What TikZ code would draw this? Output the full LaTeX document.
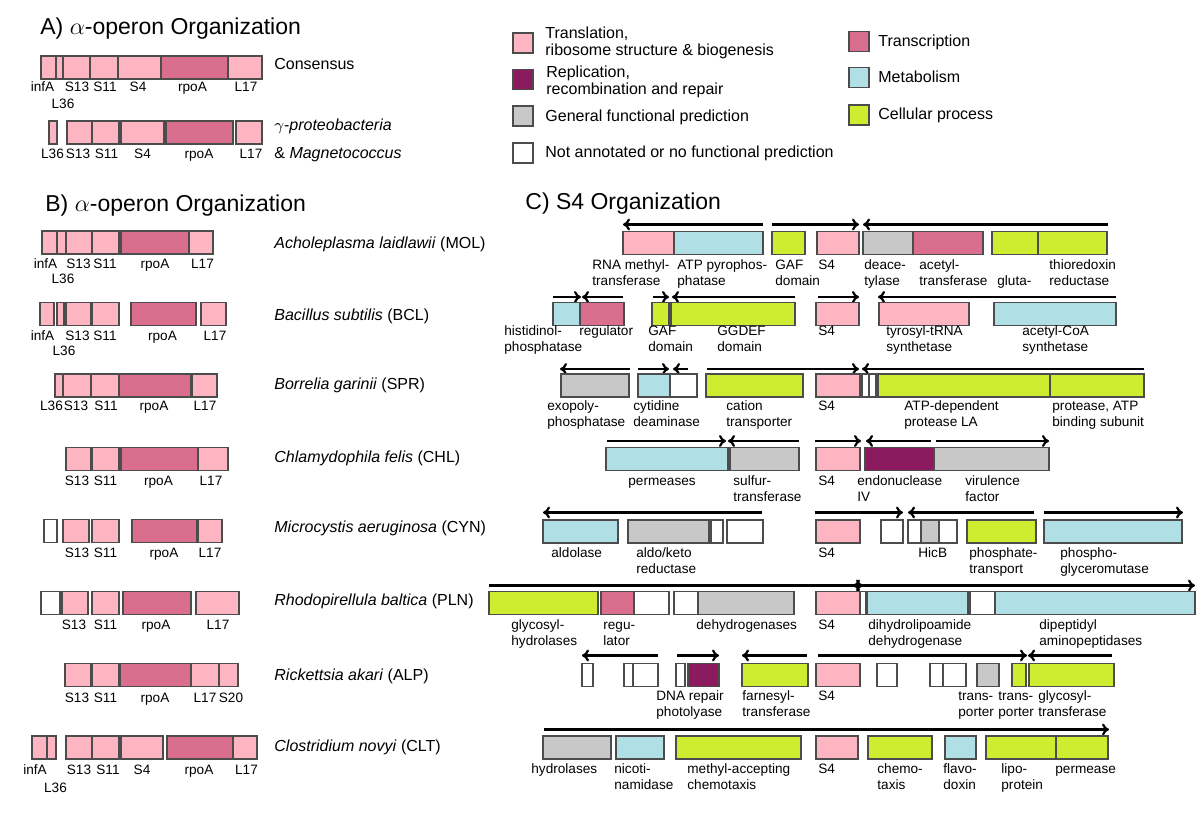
\documentclass[tikz,border=0pt]{standalone}
\usepackage{fontspec}
\setmainfont{Liberation Sans}
\usetikzlibrary{arrows.meta}

\definecolor{transl}{RGB}{253,182,193}
\definecolor{transc}{RGB}{217,110,143}
\definecolor{replic}{RGB}{139,27,94}
\definecolor{genpred}{RGB}{200,200,200}
\definecolor{metab}{RGB}{176,224,230}
\definecolor{cellp}{RGB}{206,236,48}
\definecolor{noann}{RGB}{255,255,255}

\newcommand{\genes}[2]{\foreach \xa/\xb/\gcol in {#2}{\draw[gene,fill=\gcol] (\xa,#1) rectangle (\xb,#1+23);}}
\newcommand{\orfs}[2]{\foreach \xa/\xb in {#2}{\draw[orf] (\xa,#1) -- (\xb,#1);}}
\newcommand{\glabels}[3]{\foreach \xa/\txt [count=\n] in {#3}{\node[glabel] (#1\n) at (\xa,#2) {\begin{tabular}[t]{@{}l@{}}\txt\end{tabular}};}}
\newcommand{\clabels}[3]{\foreach \xa/\txt [count=\n] in {#3}{\node[blabel] (#1\n) at (\xa,#2) {\txt};}}

\begin{document}
\begin{tikzpicture}[x=0.5pt,y=-0.5pt,
    gene/.style={draw=black!70,line width=0.6pt},
    orf/.style={-{To[length=3.5pt,width=6pt]},line width=1.1pt},
    glabel/.style={anchor=base west,inner sep=0pt,font=\fontsize{6.8}{8}\selectfont},
    blabel/.style={anchor=base,inner sep=0pt,font=\fontsize{6.8}{8}\selectfont},
    species/.style={anchor=base west,inner sep=0pt,font=\fontsize{8}{9.6}\selectfont},
    legtext/.style={anchor=base west,inner sep=0pt,font=\fontsize{8}{8.4}\selectfont},
    swatch/.style={gene,minimum size=10pt,inner sep=0pt},
    title/.style={anchor=base west,inner sep=0pt,font=\fontsize{11.5}{13}\selectfont}
]
\useasboundingbox (0,0) rectangle (1200,817);

% A) consensus
\node[title] (tA) at (40,34.5) {A) $\alpha$-operon Organization};
\genes{56}{41/56/transl,56/63/transl,63/90/transl,90/118/transl,118/161/transl,161/228/transc,228/262/transl}
\clabels{cona}{92}{42.5/infA,77/S13,105/S11,138/S4,192.5/rpoA,246/L17}
\clabels{conb}{108.5}{63/L36}
\node[species] (cons) at (274,70) {Consensus};
\genes{121}{49/57/transl,67/92/transl,92/119/transl,121/164/transl,166/233/transc,236/262/transl}
\clabels{gama}{158.5}{52.5/L36,78/S13,106.5/S11,142.5/S4,199/rpoA,251/L17}
\node[species] (gam) at (274,131) {$\gamma$-\textit{proteobacteria}};
\node[species] (mag) at (274,159) {\& \textit{Magnetococcus}};

% legend
\node[swatch,fill=transl] (sw1) at (523,43) {};
\node[swatch,fill=replic] (sw2) at (523,79.5) {};
\node[swatch,fill=genpred] (sw3) at (523,116) {};
\node[swatch,fill=noann] (sw4) at (523,153) {};
\node[swatch,fill=transc] (sw5) at (859,41.5) {};
\node[swatch,fill=metab] (sw6) at (859,77.5) {};
\node[swatch,fill=cellp] (sw7) at (859,115) {};
\node[legtext] (lg1) at (545,39) {\begin{tabular}[t]{@{}l@{}}Translation,\\ribosome structure \& biogenesis\end{tabular}};
\node[legtext] (lg2) at (546,77.5) {\begin{tabular}[t]{@{}l@{}}Replication,\\recombination and repair\end{tabular}};
\node[legtext] (lg3) at (545,121.5) {General functional prediction};
\node[legtext] (lg4) at (545,157.5) {Not annotated or no functional prediction};
\node[legtext] (lg5) at (878,46.5) {Transcription};
\node[legtext] (lg6) at (878,82.5) {Metabolism};
\node[legtext] (lg7) at (878,120) {Cellular process};

% B) alpha-operon in species
\node[title] (tB) at (45,211.5) {B) $\alpha$-operon Organization};
\genes{231}{42/57/transl,57/66/transl,66/92/transl,92/119/transl,121/189/transc,189/213/transl}
\clabels{mola}{268.5}{45.5/infA,78.5/S13,105/S11,155/rpoA,202.5/L17}
\clabels{molb}{283.5}{63/L36}
\node[species] (mol) at (274,249) {\textit{Acholeplasma laidlawii} (MOL)};
\genes{302.5}{40/54/transl,57/64/transl,66/91/transl,92/119/transl,131/196/transc,201/226/transl}
\clabels{bcla}{341}{42.5/infA,77.5/S13,105/S11,162.5/rpoA,215/L17}
\clabels{bclb}{355.5}{64/L36}
\node[species] (bcl) at (274,321) {\textit{Bacillus subtilis} (BCL)};
\genes{374}{55/63/transl,63/91/transl,91/119/transl,119/191/transc,192/217/transl}
\clabels{spra}{411}{51.5/L36,76/S13,106/S11,154/rpoA,205/L17}
\node[species] (spr) at (274,390) {\textit{Borrelia garinii} (SPR)};
\genes{447.5}{66/91/transl,92/119/transl,121/198/transc,198/228/transl}
\clabels{chla}{486}{77/S13,105.5/S11,158.5/rpoA,211/L17}
\node[species] (chl) at (274,463) {\textit{Chlamydophila felis} (CHL)};
\genes{519.5}{44/57/noann,63/89/transl,92/119/transl,132/197/transc,198/222/transl}
\clabels{cyna}{558}{77/S13,105.5/S11,164/rpoA,210/L17}
\node[species] (cyn) at (274,533) {\textit{Microcystis aeruginosa} (CYN)};
\genes{591.5}{41/60/noann,62/88/transl,92/119/transl,123/191/transc,196/239/transl}
\clabels{plna}{629.5}{74/S13,105.5/S11,156/rpoA,218/L17}
\node[species] (pln) at (274,606) {\textit{Rhodopirellula baltica} (PLN)};
\genes{663.5}{65/91/transl,92/119/transl,120/191/transc,191/219/transl,219/238/transl}
\clabels{alpa}{702.5}{77/S13,105.5/S11,155/rpoA,205/L17,231/S20}
\node[species] (alp) at (274,681) {\textit{Rickettsia akari} (ALP)};
\genes{736}{32/47/transl,47/56/transl,66/92/transl,92/119/transl,121/163/transl,167/233/transc,233/257/transl}
\clabels{clta}{774.5}{35/infA,79/S13,108/S11,142/S4,199/rpoA,246.5/L17}
\clabels{cltb}{792}{55.5/L36}
\node[species] (clt) at (274,752) {\textit{Clostridium novyi} (CLT)};

% C) S4 neighbourhoods
\node[title] (tC) at (525,209.5) {C) S4 Organization};
\orfs{224.5}{763/623,772/859,1108/863}
\genes{231.5}{623/674/transl,674/763/metab,772/805/cellp,817/859/transl,863/913/genpred,913/983/transc,992/1038/cellp,1038/1107/cellp}
\glabels{ma}{269.5}{592/{RNA methyl-\\transferase},677/{ATP pyrophos-\\phatase},775/{GAF\\domain},818/S4,864/{deace-\\tylase},919/{acetyl-\\transferase},997/{\\gluta-},1049/{thioredoxin\\reductase}}

\orfs{297}{553/581,623/582,653/669,795/672,818/859,1116/878}
\genes{302.5}{553/580/metab,580/624/transc,652/669/cellp,671/795/cellp,816/859/transl,879/969/transl,994/1116/metab}
\glabels{ba}{336}{504/{histidinol-\\phosphatase},579/regulator,648/{GAF\\domain},717/{GGDEF\\domain},818/S4,886/{tyrosyl-tRNA\\synthetase},1022/{acetyl-CoA\\synthetase}}

\orfs{369}{630/560,638/669,688/673,707/859,1144/862}
\genes{374}{561/629/genpred,638/670/metab,670/697/noann,706/803/cellp,816/860/transl,862/869/noann,869/876/noann,878/1050/cellp,1050/1144/cellp}
\glabels{sa}{411}{547/{exopoly-\\phosphatase},633/{cytidine\\deaminase},726/{cation\\transporter},818/S4,904/{ATP-dependent\\protease LA},1052/{protease, ATP\\binding subunit}}

\orfs{441}{607/726,799/728,815/861,931/866,936/1049}
\genes{447.5}{606/728/metab,730/799/genpred,816/860/transl,865/934/replic,934/1049/genpred}
\glabels{ca}{486}{628/permeases,733/{sulfur-\\transferase},818/S4,857/{endonuclease\\IV},965/{virulence\\factor}}

\orfs{512.5}{762/543,815/903,1034/908,1044/1183}
\genes{520}{543/618/metab,628/709/genpred,711/723/noann,727/763/noann,816/860/transl,881/903/noann,908/921/noann,921/939/genpred,939/957/noann,967/1036/cellp,1044/1182/metab}
\glabels{ya}{557.5}{551/aldolase,636/{aldo/keto\\reductase},818/S4,918/HicB,969/{phosphate-\\transport},1060/{phospho-\\glyceromutase}}

\orfs{585.5}{489/863,868/853,868/1195}
\genes{591.5}{489/598/cellp,601/634/transc,634/669/noann,674/698/noann,698/794/genpred,816/860/transl,860/866/noann,867/968/metab,970/995/noann,995/1195/metab}
\glabels{pa}{630}{511/{glycosyl-\\hydrolases},603/{regu-\\lator},696/dehydrogenases,818/S4,868/{dihydrolipoamide\\dehydrogenase},1039/{dipeptidyl\\aminopeptidases}}

\orfs{655.5}{658/582,677/719,807/742,818/1027,1112/1028}
\genes{663.5}{582/593/noann,624/633/noann,633/658/noann,676/685/noann,688/719/replic,742/808/cellp,816/860/transl,877/897/noann,930/943/noann,943/966/noann,977/999/genpred,1012/1026/cellp,1029/1114/cellp}
\glabels{ra}{701}{656/{DNA repair\\photolyase},742/{farnesyl-\\transferase},818/S4,958/{trans-\\porter},998/{trans-\\porter},1038/{glycosyl-\\transferase}}

\orfs{729.5}{544/1109}
\genes{736}{543/611/genpred,616/664/metab,676/801/cellp,816/858/transl,868/932/cellp,945/976/metab,986/1056/cellp,1056/1108/cellp}
\glabels{la}{773.5}{531/hydrolases,614/{nicoti-\\namidase},687/{methyl-accepting\\chemotaxis},818/S4,877/{chemo-\\taxis},943/{flavo-\\doxin},1001/{lipo-\\protein},1055/permease}
\end{tikzpicture}
\end{document}
